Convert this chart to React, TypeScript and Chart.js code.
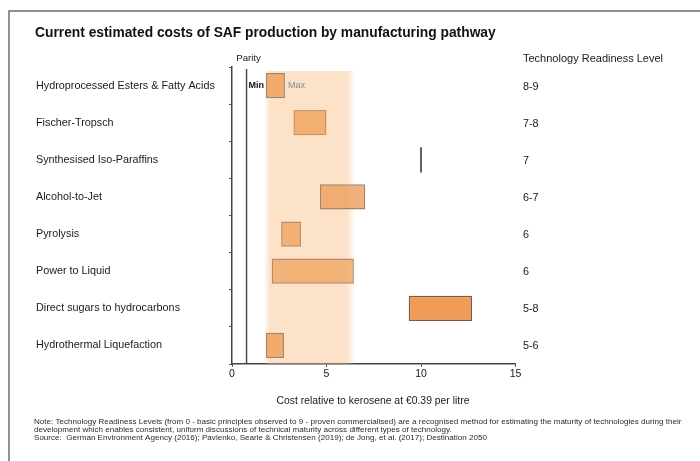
import React, { useEffect, useRef } from "react";
import { Chart, registerables } from "chart.js";

Chart.register(...registerables);

const TITLE = "Current estimated costs of SAF production by manufacturing pathway";
const PATHWAYS = [
  "Hydroprocessed Esters & Fatty Acids",
  "Fischer-Tropsch",
  "Synthesised Iso-Paraffins",
  "Alcohol-to-Jet",
  "Pyrolysis",
  "Power to Liquid",
  "Direct sugars to hydrocarbons",
  "Hydrothermal Liquefaction",
];
const COST_MIN = [1.8, 3.25, 9.95, 4.65, 2.6, 2.1, 9.35, 1.8];
const COST_MAX = [2.8, 5.0, 10.05, 7.05, 3.65, 6.45, 12.7, 2.75];
const TRL = ["8-9", "7-8", "7", "6-7", "6", "6", "5-8", "5-6"];
const X_TICKS = [0, 5, 10, 15];
const PARITY = 0.77;
const BAND_MIN = 1.85;
const BAND_MAX = 6.3;
const X_TITLE = "Cost relative to kerosene at €0.39 per litre";
const TRL_TITLE = "Technology Readiness Level";
const NOTES = [
  "Note: Technology Readiness Levels (from 0 - basic principles observed to 9 - proven commercialised) are a recognised method for estimating the maturity of technologies during their",
  "development which enables consistent, uniform discussions of technical maturity across different types of technology.",
  "Source:  German Environment Agency (2016); Pavlenko, Searle & Christensen (2019); de Jong, et al. (2017); Destination 2050",
];

const FONT = "'Liberation Sans', Arial, sans-serif";

const BAR_FILL = [
  "rgba(240,158,85,0.82)",
  "rgba(240,160,90,0.78)",
  "#5a5a5a",
  "rgba(238,160,95,0.82)",
  "rgba(240,162,92,0.78)",
  "rgba(240,165,98,0.78)",
  "rgba(240,148,72,0.92)",
  "rgba(240,158,85,0.82)",
];
const BAR_BORDER = [
  "#a08570",
  "#d0925e",
  "#5a5a5a",
  "#a8836a",
  "#c08c68",
  "#b88a68",
  "#7e5a44",
  "#a08570",
];

const extras = {
  id: "extras",
  beforeDraw(chart: any) {
    const { ctx } = chart;
    ctx.save();
    ctx.fillStyle = "#fff";
    ctx.fillRect(0, 0, chart.width, chart.height);
    // frame
    ctx.strokeStyle = "#6e6e6e";
    ctx.lineWidth = 1.5;
    ctx.beginPath();
    ctx.moveTo(9, chart.height);
    ctx.lineTo(9, 11);
    ctx.lineTo(chart.width, 11);
    ctx.stroke();
    // title
    ctx.fillStyle = "#111";
    ctx.textBaseline = "middle";
    ctx.textAlign = "left";
    ctx.font = `bold 13.8px ${FONT}`;
    ctx.fillText(TITLE, 35, 33);
    // TRL header
    ctx.font = `11px ${FONT}`;
    ctx.fillStyle = "#1a1a1a";
    ctx.fillText(TRL_TITLE, 523, 59);
    // x axis title
    const x = chart.scales.x;
    ctx.textAlign = "center";
    ctx.font = `10.4px ${FONT}`;
    ctx.fillText(X_TITLE, 373, 401);
    // parity label
    ctx.font = `9.6px ${FONT}`;
    ctx.fillText("Parity", x.getPixelForValue(PARITY) + 2, 58);
    // notes (wide, small type)
    ctx.textAlign = "left";
    ctx.font = `6.3px ${FONT}`;
    ctx.fillStyle = "#2a2a2a";
    NOTES.forEach((n, i) => {
      ctx.save();
      ctx.translate(34, 422 + i * 8);
      ctx.scale(1.28, 1);
      ctx.fillText(n, 0, 0);
      ctx.restore();
    });
    ctx.restore();
  },
  beforeDatasetsDraw(chart: any) {
    const { ctx, chartArea } = chart;
    const x = chart.scales.x;
    const x0 = x.getPixelForValue(BAND_MIN);
    const x1 = x.getPixelForValue(BAND_MAX + 0.25);
    const xs = x.getPixelForValue(BAND_MAX - 0.25);
    ctx.save();
    const g = ctx.createLinearGradient(x0 - 3, 0, x1, 0);
    const w = x1 - x0 + 3;
    g.addColorStop(0, "rgba(247,185,125,0)");
    g.addColorStop(6 / w, "rgba(247,185,125,0.42)");
    g.addColorStop((xs - x0 + 3) / w, "rgba(247,185,125,0.42)");
    g.addColorStop(1, "rgba(247,185,125,0)");
    ctx.fillStyle = g;
    ctx.fillRect(x0 - 3, chartArea.top + 4, w, chartArea.bottom - chartArea.top - 4);
    // parity line
    const px = x.getPixelForValue(PARITY);
    ctx.strokeStyle = "#444";
    ctx.lineWidth = 1.4;
    ctx.beginPath();
    ctx.moveTo(px, chartArea.top + 2);
    ctx.lineTo(px, chartArea.bottom);
    ctx.stroke();
    ctx.restore();
  },
  afterDatasetsDraw(chart: any) {
    const { ctx } = chart;
    const x = chart.scales.x;
    const y = chart.scales.y;
    ctx.save();
    ctx.textBaseline = "middle";
    ctx.font = `10.8px ${FONT}`;
    ctx.fillStyle = "#1a1a1a";
    ctx.textAlign = "left";
    TRL.forEach((t, i) => ctx.fillText(t, 523, y.getPixelForValue(i) + 1));
    // min / max labels on first row
    const cy = y.getPixelForValue(0);
    ctx.font = `bold 9px ${FONT}`;
    ctx.fillStyle = "#111";
    ctx.textAlign = "right";
    ctx.fillText("Min", x.getPixelForValue(COST_MIN[0]) - 2, cy);
    ctx.font = `9px ${FONT}`;
    ctx.fillStyle = "#8a8a8a";
    ctx.textAlign = "left";
    ctx.fillText("Max", x.getPixelForValue(COST_MAX[0]) + 3, cy);
    ctx.restore();
  },
};

export default function App() {
  const ref = useRef<HTMLCanvasElement>(null);
  useEffect(() => {
    if (!ref.current) return;
    const chart = new Chart(ref.current, {
      type: "bar",
      data: {
        labels: PATHWAYS,
        datasets: [
          {
            data: COST_MIN.map((m, i) => [m, COST_MAX[i]]) as any,
            backgroundColor: BAR_FILL,
            borderColor: BAR_BORDER,
            borderWidth: PATHWAYS.map((_, i) => (i === 2 ? 0 : 1.5)),
            borderSkipped: false,
            barPercentage: 0.68,
            categoryPercentage: 1,
          },
        ],
      },
      options: {
        indexAxis: "y",
        animation: false,
        responsive: true,
        maintainAspectRatio: false,
        layout: { padding: { left: 36, right: 184.5, top: 67, bottom: 77 } },
        plugins: {
          legend: { display: false },
          tooltip: { enabled: false },
          title: { display: false },
        },
        scales: {
          x: {
            type: "linear",
            min: 0,
            max: 15,
            afterBuildTicks: (s: any) => {
              s.ticks = X_TICKS.map((v) => ({ value: v }));
            },
            afterFit: (s: any) => {
              s.height = 20;
            },
            grid: { drawOnChartArea: false, tickLength: 3, color: "#555" },
            border: { color: "#444", width: 1.5 },
            ticks: { color: "#1a1a1a", font: { family: FONT, size: 10.5 }, padding: 1 },
          },
          y: {
            type: "category",
            afterFit: (s: any) => {
              s.width = 196;
            },
            grid: { drawOnChartArea: false, tickLength: 3, color: "#555", offset: true },
            border: { color: "#444", width: 1.5 },
            ticks: {
              crossAlign: "far",
              color: "#1a1a1a",
              font: { family: FONT, size: 10.8 },
              padding: 4,
            },
          },
        },
      },
      plugins: [extras],
    });
    return () => chart.destroy();
  }, []);
  return (
    <div style={{ position: "absolute", left: 0, top: 0, width: 700, height: 461 }}>
      <canvas ref={ref} />
    </div>
  );
}
